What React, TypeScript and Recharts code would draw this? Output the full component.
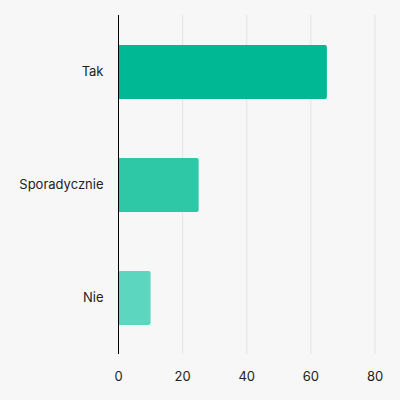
import { BarChart, Bar, XAxis, YAxis, CartesianGrid, Cell } from "recharts";

const categories = ["Tak", "Sporadycznie", "Nie"];
const values = [65, 25, 10];
const colors = ["#00b894", "#2ec8a6", "#5cd6bf"];
const xTicks = [0, 20, 40, 60, 80];

const data = categories.map((name, i) => ({ name, value: values[i] }));

export default function App() {
  return (
    <div style={{ position: "absolute", left: 0, top: 0, width: 400, height: 400, background: "#f7f7f7" }}>
      <BarChart
        width={400}
        height={400}
        data={data}
        layout="vertical"
        margin={{ top: 15, right: 25, bottom: 16, left: 0 }}
        style={{ fontFamily: "Inter, sans-serif" }}
      >
        <CartesianGrid horizontal={false} stroke="#e4e4e4" />
        <XAxis
          type="number"
          domain={[0, 80]}
          ticks={xTicks}
          axisLine={false}
          tickLine={false}
          tickMargin={12}
          tick={{ fill: "#222", fontSize: 13 }}
        />
        <YAxis
          type="category"
          dataKey="name"
          width={118.5}
          tickLine={false}
          axisLine={{ stroke: "#000", strokeWidth: 1 }}
          tickMargin={9}
          tick={{ fill: "#222", fontSize: 13 }}
        />
        <Bar dataKey="value" barSize={54} radius={[0, 2, 2, 0]} isAnimationActive={false}>
          {data.map((_, idx) => <Cell key={idx} fill={colors[idx % colors.length]} />)}
        </Bar>
      </BarChart>
    </div>
  );
}
